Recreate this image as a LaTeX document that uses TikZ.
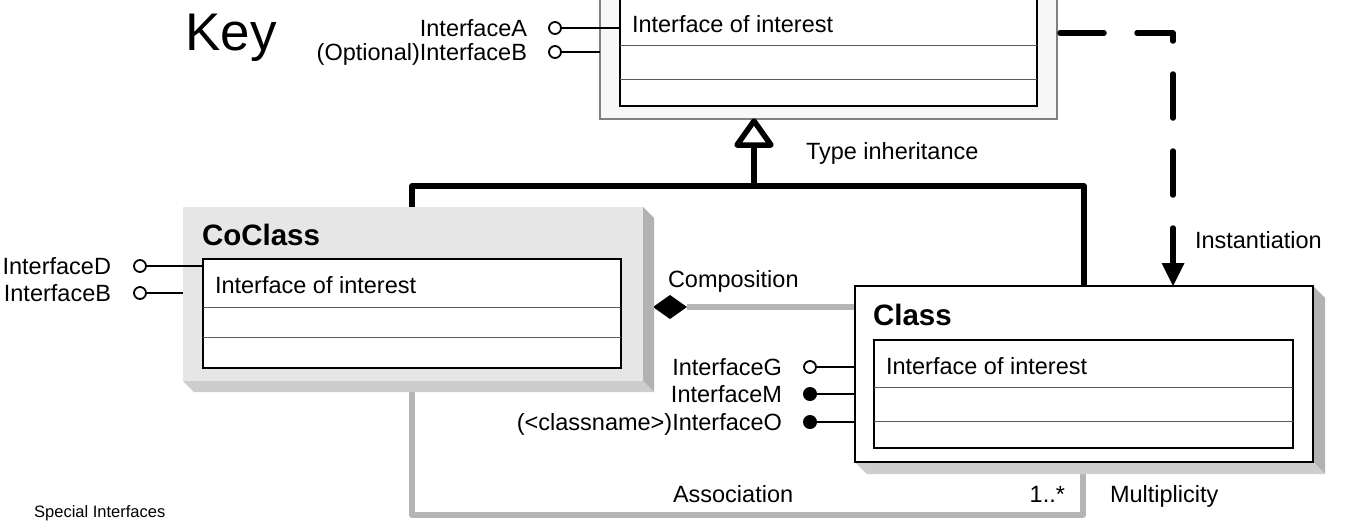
\documentclass[tikz,border=0pt]{standalone}
\usepackage{fontspec}
\setmainfont{Liberation Sans}
\definecolor{lgray}{HTML}{B4B4B4}
\definecolor{bevR}{HTML}{B2B2B2}
\definecolor{bevB}{HTML}{CDCDCD}
\definecolor{cofill}{HTML}{E6E6E6}
\definecolor{keybg}{HTML}{F7F7F7}
\definecolor{keyborder}{HTML}{808080}
\definecolor{dgray}{HTML}{5A5A5A}
\begin{document}
\begin{tikzpicture}[x=1pt,y=-1pt,
  txt/.style={inner sep=0pt, outer sep=0pt, font=\fontsize{23.5}{28}\selectfont},
  hdr/.style={inner sep=0pt, outer sep=0pt, font=\fontsize{29.5}{34}\selectfont\bfseries},
  rbox/.style={rectangle, inner sep=0pt, outer sep=0pt, anchor=north west},
  blackline/.style={line width=5.5pt, draw=black},
  grayline/.style={line width=5.5pt, draw=lgray},
  divider/.style={line width=1pt, draw=dgray},
  ifline/.style={line width=1.8pt, draw=black},
  opendot/.style={circle, draw=black, line width=1.8pt, fill=white, minimum size=12pt, inner sep=0pt, outer sep=0pt},
  filldot/.style={circle, fill=black, minimum size=14pt, inner sep=0pt, outer sep=0pt},
]
\useasboundingbox (0,0) rectangle (1353,523);
\clip (0,0) rectangle (1353,523);

% ---------- Key box ----------
\node[rbox, draw=keyborder, fill=keybg, line width=1.2pt, minimum width=457pt, minimum height=199pt] (keyouter) at (600,-80) {};
\node[rbox, draw=black, fill=white, line width=2pt, minimum width=417pt, minimum height=108pt] (keyinner) at (620,-2) {};
\draw[divider] (620,45) -- (1037,45);
\draw[divider] (620,79) -- (1037,79);
\node[txt, anchor=base west] (keytext) at (632,32) {Interface of interest};

\node[inner sep=0pt, anchor=base west, font=\fontsize{53}{60}\selectfont] (keylabel) at (185,50) {Key};

\node[txt, anchor=base east] (ifA) at (527,36) {InterfaceA};
\node[txt, anchor=base east] (ifB) at (527,60) {(Optional)InterfaceB};
\node[opendot] (dA) at (555,28) {};
\node[opendot] (dB) at (555,52) {};
\draw[ifline] (dA.east) -- (dA.east -| keyinner.west);
\draw[ifline] (dB.east) -- (dB.east -| keyouter.west);

% ---------- connectors behind boxes ----------
\coordinate (assocA) at (412,392);
\coordinate (assocB) at (1083,474);
\draw[grayline, line join=round] (assocA) -- (412,515) -- (1083,515) -- (assocB);

\coordinate (compR) at (687,307);
\coordinate (compE) at (855,307);
\draw[grayline] (compR) -- (compE);
\fill[black] (653,307) -- (670,295) -- (compR) -- (670,319) -- cycle;

% type inheritance
\draw[blackline, fill=white, line join=round] (754,121) -- (771,145) -- (737,145) -- cycle;
\coordinate (inhS) at (754,147.5);
\coordinate (inhJ) at (754,186);
\coordinate (inhL) at (412,207);
\coordinate (inhR) at (1084,286);
\draw[blackline] (inhS) -- (inhJ);
\draw[blackline, line join=round] (inhL) -- (412,186) -- (1084,186) -- (inhR);

% instantiation
\coordinate (instS) at (1060,33);
\coordinate (instC) at (1173,33);
\coordinate (instE) at (1173,263);
\draw[blackline, line cap=round, line join=round, dash pattern=on 44pt off 33pt] (instS) -- (instC) -- (instE);
\fill[black] (1161.5,263) -- (1184.5,263) -- (1173,286) -- cycle;

% ---------- CoClass ----------
\fill[bevR] (643,207) -- (654,218) -- (654,392) -- (643,381) -- cycle;
\fill[bevB] (183,381) -- (194,392) -- (654,392) -- (643,381) -- cycle;
\node[rbox, fill=cofill, minimum width=460pt, minimum height=174pt] (cofront) at (183,207) {};
\node[hdr, anchor=base west] (cotitle) at (202,245) {CoClass};
\node[rbox, draw=black, fill=white, line width=2pt, minimum width=418pt, minimum height=109pt] (coinner) at (203,259) {};
\draw[divider] (203,307) -- (621,307);
\draw[divider] (203,337) -- (621,337);
\node[txt, anchor=base west] (cotext) at (215,293) {Interface of interest};

\node[txt, anchor=base east] (ifD) at (111,274) {InterfaceD};
\node[txt, anchor=base east] (ifB2) at (111,301) {InterfaceB};
\node[opendot] (dD) at (140,266) {};
\node[opendot] (dB2) at (140,293) {};
\draw[ifline] (dD.east) -- (dD.east -| coinner.west);
\draw[ifline] (dB2.east) -- (dB2.east -| cofront.west);

% ---------- Class ----------
\fill[bevR] (1313,286) -- (1325,298) -- (1325,474) -- (1313,462) -- cycle;
\fill[bevB] (855,462) -- (867,474) -- (1325,474) -- (1313,462) -- cycle;
\node[rbox, draw=black, fill=white, line width=1.3pt, minimum width=458pt, minimum height=176pt] (clfront) at (855,286) {};
\node[hdr, anchor=base west] (cltitle) at (873,325) {Class};
\node[rbox, draw=black, fill=white, line width=2pt, minimum width=419pt, minimum height=108pt] (clinner) at (874,340) {};
\draw[divider] (874,387) -- (1293,387);
\draw[divider] (874,421) -- (1293,421);
\node[txt, anchor=base west] (cltext) at (886,374) {Interface of interest};

\node[txt, anchor=base east] (ifG) at (782,375) {InterfaceG};
\node[txt, anchor=base east] (ifM) at (782,402) {InterfaceM};
\node[txt, anchor=base east] (ifO) at (782,430) {(<classname>)InterfaceO};
\node[opendot] (dG) at (810,367) {};
\node[filldot] (dM) at (810,394) {};
\node[filldot] (dO) at (810,422) {};
\draw[ifline] (dG.east) -- (dG.east -| clfront.west);
\draw[ifline] (dM.east) -- (dM.east -| clfront.west);
\draw[ifline] (dO.east) -- (dO.east -| clfront.west);

% ---------- labels ----------
\node[txt, anchor=base west] (lblInh) at (806,159) {Type inheritance};
\node[txt, anchor=base west] (lblInst) at (1195,248) {Instantiation};
\node[txt, anchor=base west] (lblComp) at (668,287) {Composition};
\node[txt, anchor=base west] (lblAssoc) at (673,502) {Association};
\node[txt, anchor=base east] (lblMult) at (1065,502) {1..*};
\node[txt, anchor=base west] (lblMultT) at (1110,502) {Multiplicity};
\node[inner sep=0pt, anchor=base west, font=\fontsize{16.5}{20}\selectfont] (lblSpecial) at (34,517) {Special Interfaces};
\end{tikzpicture}
\end{document}
